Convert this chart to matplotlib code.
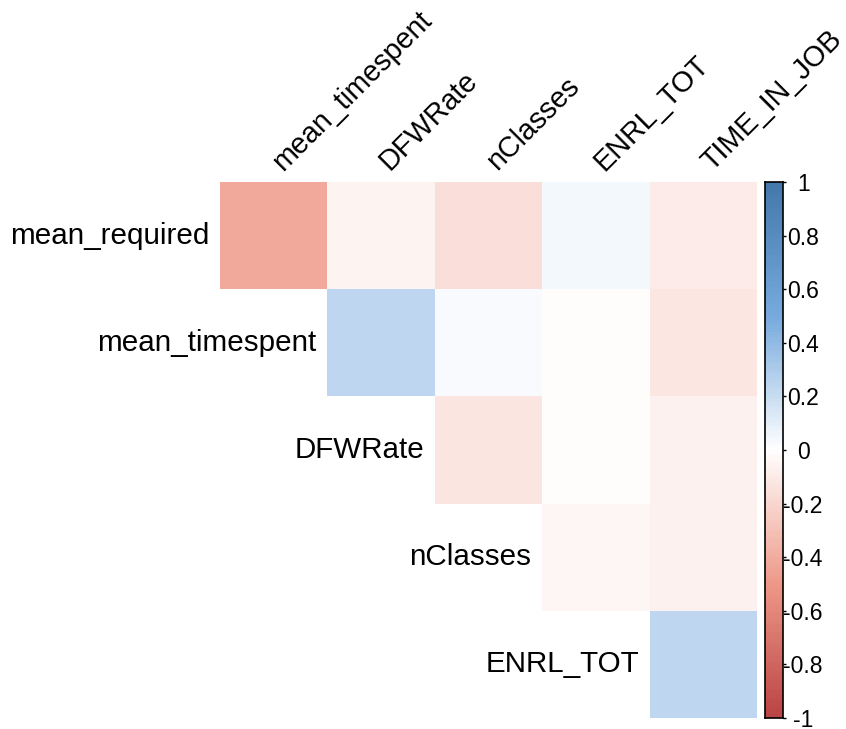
import numpy as np
import matplotlib.pyplot as plt
from matplotlib.colors import LinearSegmentedColormap

plt.rcParams['font.family'] = ['Liberation Sans', 'DejaVu Sans']

row_names = ["mean_required", "mean_timespent", "DFWRate", "nClasses", "ENRL_TOT"]
col_names = ["mean_timespent", "DFWRate", "nClasses", "ENRL_TOT", "TIME_IN_JOB"]

# upper triangle of the correlation matrix (diagonal dropped)
r_mean_required = [-0.42, -0.06, -0.16, 0.04, -0.10]
r_mean_timespent = [0.24, 0.03, -0.01, -0.12]
r_dfwrate = [-0.13, -0.01, -0.07]
r_nclasses = [-0.04, -0.07]
r_enrl_tot = [0.24]
rows = [r_mean_required, r_mean_timespent, r_dfwrate, r_nclasses, r_enrl_tot]

cbar_ticks = [-1, -0.8, -0.6, -0.4, -0.2, 0, 0.2, 0.4, 0.6, 0.8, 1]

n = len(row_names)
mat = np.full((n, n), np.nan)
for i, vals in enumerate(rows):
    mat[i, i:] = vals
mat = np.ma.masked_invalid(mat)

cmap = LinearSegmentedColormap.from_list(
    "corr", ["#BB4444", "#EE9988", "#FFFFFF", "#77AADD", "#4477AA"])

W, H = 846, 729
fig = plt.figure(figsize=(W / 100, H / 100), dpi=100)
ax = fig.add_axes([220 / W, 11 / H, 537 / W, 536 / H])
ax.pcolormesh(np.arange(n + 1), np.arange(n + 1), mat, cmap=cmap,
              vmin=-1, vmax=1, shading="flat")
ax.set_xlim(0, n)
ax.set_ylim(n, 0)
ax.axis("off")

for i, name in enumerate(row_names):
    ax.text(i - 0.1, i + 0.5, name, ha="right", va="center", fontsize=21.3)
for j, name in enumerate(col_names):
    ax.text(j + 0.62, -0.06, name, ha="left", va="bottom", rotation=45,
            rotation_mode="anchor", fontsize=20.7)

# colour legend
cax = fig.add_axes([765 / W, 11 / H, 18 / W, 536 / H])
grad = np.linspace(-1, 1, 200).reshape(-1, 1)
cax.pcolormesh([0, 1], np.linspace(-1, 1, 201), grad, cmap=cmap, vmin=-1, vmax=1)
cax.set_xlim(0, 1)
cax.set_ylim(-1, 1)
cax.set_xticks([])
cax.yaxis.tick_right()
cax.set_yticks(cbar_ticks)
cax.set_yticklabels([f"{t:g}" for t in cbar_ticks], ha="center")
cax.tick_params(axis="y", length=2.5, width=1, pad=12, labelsize=16.5)
for s in cax.spines.values():
    s.set_linewidth(1.2)

fig.savefig("out.png", dpi=100)
